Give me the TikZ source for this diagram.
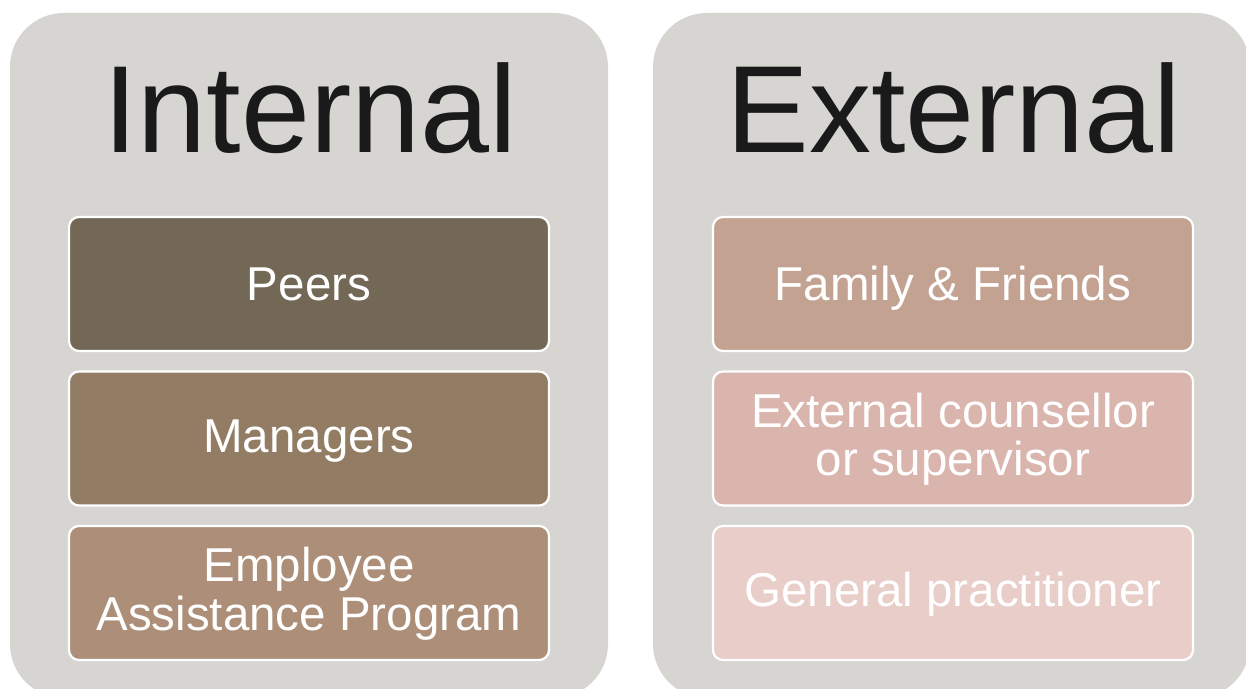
\documentclass[tikz,border=0pt]{standalone}
\usepackage{fontspec}
\setmainfont{Liberation Sans}
\definecolor{panelgray}{HTML}{D6D5D1}
\definecolor{titleblack}{HTML}{1A1A1A}
\definecolor{cPeers}{HTML}{736756}
\definecolor{cManagers}{HTML}{927C64}
\definecolor{cEAP}{HTML}{AD8E78}
\definecolor{cFamily}{HTML}{C4A292}
\definecolor{cCounsellor}{HTML}{DAB5AD}
\definecolor{cGP}{HTML}{E8CDC8}
\tikzset{
  panel/.style={fill=panelgray, draw=none, rounded corners=54pt},
  itembox/.style={draw=white, line width=2.2pt, rounded corners=10pt, minimum width=480pt, minimum height=134pt, inner sep=0pt},
  itemtext/.style={text=white, font=\fontsize{47.5}{49}\selectfont, anchor=base, inner sep=0pt},
  titletext/.style={text=titleblack, font=\fontsize{124}{124}\selectfont, anchor=base, inner sep=0pt}
}
\begin{document}
\begin{tikzpicture}[x=1pt,y=1pt]
\useasboundingbox (0,0) rectangle (1246,688);
\fill[white] (0,0) rectangle (1246,688);
\begin{scope}
\clip (0,0) rectangle (1246,688);
\path[panel] (10,-10) rectangle (608,675);
\path[panel] (653,-10) rectangle (1250,675);
\end{scope}
\node[titletext] (tin) at (310,535) {Internal};
\node[titletext] (tex) at (954,535) {External};
\node[itembox, fill=cPeers] (peers) at (309,404) {};
\node[itembox, fill=cManagers] (managers) at (309,249.5) {};
\node[itembox, fill=cEAP] (eap) at (309,95) {};
\node[itembox, fill=cFamily] (family) at (953,404) {};
\node[itembox, fill=cCounsellor] (counsellor) at (953,249.5) {};
\node[itembox, fill=cGP] (gp) at (953,95) {};
\node[itemtext] (tpeers) at (309,387.3) {Peers};
\node[itemtext] (tmanagers) at (309,235) {Managers};
\node[itemtext] (teap1) at (309,106.3) {Employee};
\node[itemtext] (teap2) at (309,57.3) {Assistance Program};
\node[itemtext] (tfamily) at (953,387.5) {Family \& Friends};
\node[itemtext] (tcoun1) at (953,260.7) {External counsellor};
\node[itemtext] (tcoun2) at (953,212) {or supervisor};
\node[itemtext] (tgp) at (953,81.3) {General practitioner};
\end{tikzpicture}
\end{document}
